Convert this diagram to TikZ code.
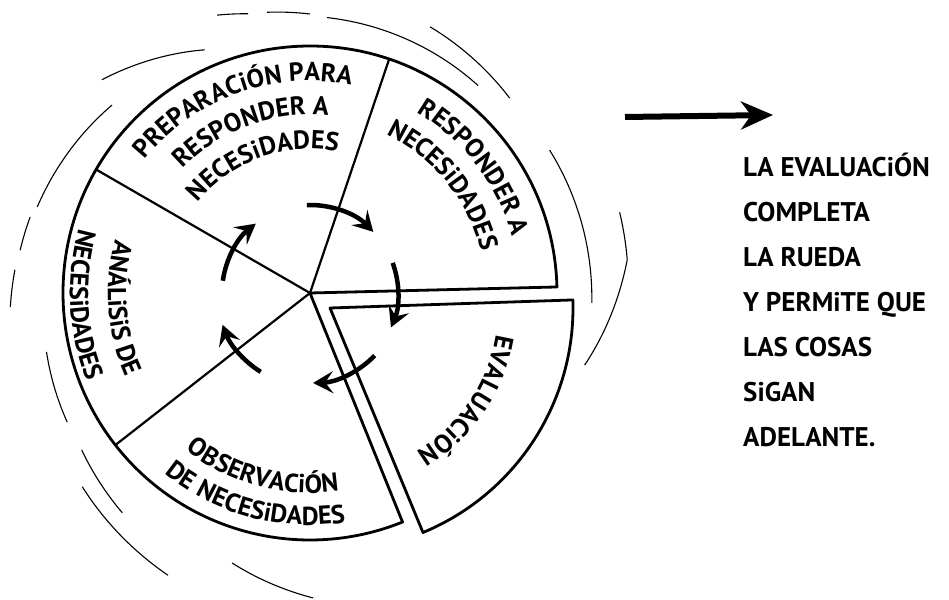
\documentclass[tikz,border=0pt]{standalone}
\usepackage{fontspec}
\setmainfont{PT Sans}
\usetikzlibrary{arrows.meta, decorations.text}

\newcommand{\wheelfont}{\fontsize{26}{30}\bfseries\selectfont}
\newcommand{\rimtext}[4]{%
  \path[decorate, decoration={text along path, text align=center, text={|\wheelfont|#4}}]
    (#1:#3) arc[start angle=#1, end angle=#2, radius=#3];}
\newcommand{\swoosh}[4]{%
  \draw[swoosh] plot[domain=#1:#3, samples=25, smooth] (\x:{#2+(#4-#2)*(\x-#1)/(#3-#1)});}

\begin{document}
\begin{tikzpicture}[x=1pt, y=1pt,
    rim/.style={line width=2.8pt, line join=round},
    spoke/.style={line width=2.2pt},
    turn/.style={line width=4.5pt, -{Stealth[length=20pt, width=22pt, inset=8pt]}},
    swoosh/.style={line width=1.1pt},
    bigarrow/.style={line width=6pt, -{Stealth[length=32pt, width=28pt, inset=10pt]}}]
    \fill[white] (-310,-306) rectangle (639,293);
    \coordinate (hub) at (0,0);

    % wheel
    \draw[rim] (hub) -- (1.4:247) arc[start angle=1.4, end angle=292, radius=247] -- cycle;
    \foreach \a in {71.3, 150, 218}
        \draw[spoke] (hub) -- (\a:247);

    \rimtext{170}{50}{212}{PREPARACiÓN PARA}
    \rimtext{170}{50}{178}{RESPONDER A}
    \rimtext{170}{50}{144}{NECESiDADES}
    \rimtext{97.5}{-22.5}{210}{RESPONDER A}
    \rimtext{99}{-21}{176}{NECESiDADES}
    \rimtext{124.6}{244.6}{202}{ANÁLiSiS DE}
    \rimtext{123}{243}{240}{NECESiDADES}
    \rimtext{195}{315}{200}{OBSERVACiÓN}
    \rimtext{195}{315}{232}{DE NECESiDADES}

    % evaluation piece, pulled out of the wheel
    \begin{scope}[shift={(20,-15)}]
        \coordinate (evalhub) at (0,0);
        \draw[rim] (evalhub) -- (1.9:243) arc[start angle=1.9, end angle=-67.5, radius=243] -- cycle;
        \rimtext{26}{-94}{168}{EVALUACiÓN}
    \end{scope}

    \foreach \s/\e/\r in {92/44/88, 20/-23/88, -44/-88/90, 238/200/93, 172/128/88}
        \draw[turn] (\s:\r) arc[start angle=\s, end angle=\e, radius=\r];

    \foreach \angA/\radA/\angB/\radB in {102.5/286/108.5/293, 90/279/98.7/284, 51/267/86.5/276,
            44.3/279/65.7/292, 113.4/265/134.3/298, 136.5/273/162.5/286, 164.8/290/171.6/293,
            175.5/296/182.7/300, 192.6/270/208/275, 214.5/277/229.5/289, 220.4/299/243.3/316,
            253.9/281/270.6/305, -2/282/30.8/279, -14.7/284/6/319, 6/319/14.6/320}
        {\swoosh{\angA}{\radA}{\angB}{\radB}}

    \coordinate (go) at (315,176);
    \coordinate (ahead) at (463,178);
    \draw[bigarrow] (go) -- (ahead);

    \node (note) [anchor=north west, align=left, inner sep=0pt, font=\fontsize{27}{45}\bfseries\selectfont] at (433,140)
        {LA EVALUACiÓN\\COMPLETA\\LA RUEDA\\Y PERMiTE QUE\\LAS COSAS\\SiGAN\\ADELANTE.};
\end{tikzpicture}
\end{document}
